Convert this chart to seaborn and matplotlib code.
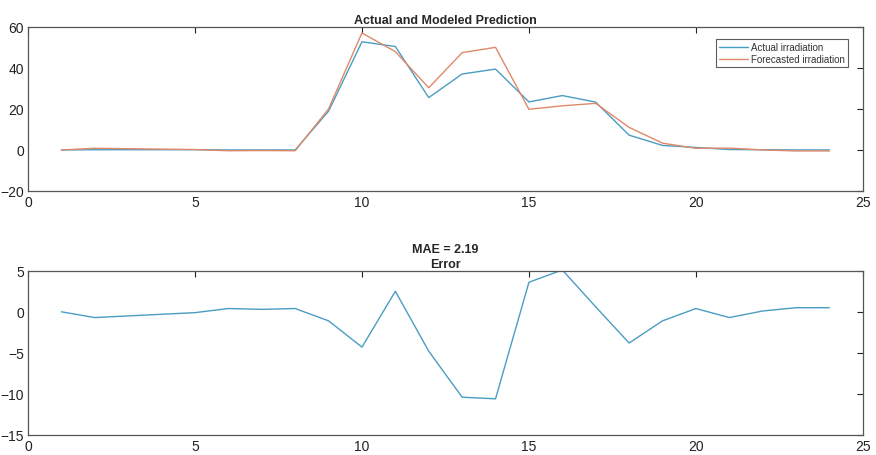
import matplotlib
matplotlib.use("Agg")
import matplotlib.pyplot as plt
import seaborn as sns
import pandas as pd

hours = list(range(1, 25))
actual = [0, 0.1, 0.1, 0.1, 0.1, 0, 0, 0, 18.9, 52.7, 50.4, 25.5, 37.0, 39.4,
          23.4, 26.5, 23.3, 7.2, 2.2, 1.2, 0.2, 0.1, 0, 0]
forecast = [0, 0.8, 0.6, 0.4, 0.2, -0.4, -0.3, -0.4, 20.0, 57.0, 47.9, 30.3, 47.4, 50.0,
            19.8, 21.5, 22.7, 11.0, 3.3, 0.8, 0.9, 0, -0.5, -0.5]
error = [0, -0.7, -0.5, -0.3, -0.1, 0.4, 0.3, 0.4, -1.1, -4.3, 2.5, -4.8, -10.4, -10.6,
         3.6, 5.1, 0.6, -3.8, -1.1, 0.4, -0.7, 0.1, 0.5, 0.5]
series_names = ["Actual irradiation", "Forecasted irradiation"]
mae_text = "MAE = 2.19"

sns.set_style("white")
plt.rcParams['font.family'] = ['Liberation Sans', 'DejaVu Sans']

df = pd.DataFrame({
    "hour": hours * 2,
    "value": actual + forecast,
    "series": [series_names[0]] * len(hours) + [series_names[1]] * len(hours),
})
df_err = pd.DataFrame({"hour": hours, "error": error})

blue = "#4a9dc2"
orange = "#e0896a"

fig = plt.figure(figsize=(8.76, 4.56), dpi=100)
ax1 = fig.add_axes([0.032, 0.579, 0.953, 0.36])
ax2 = fig.add_axes([0.032, 0.044, 0.953, 0.36])

sns.lineplot(data=df, x="hour", y="value", hue="series", palette=[blue, orange],
             ax=ax1, linewidth=1.0)
sns.lineplot(data=df_err, x="hour", y="error", color=blue, ax=ax2, linewidth=1.0)

for ax in (ax1, ax2):
    ax.set_xlim(0, 25)
    ax.set_xticks([0, 5, 10, 15, 20, 25])
    ax.set_xlabel("")
    ax.set_ylabel("")
    ax.tick_params(direction="in", top=True, right=True, length=4, width=0.8,
                   labelsize=10, colors="#222222", pad=3)
    for s in ax.spines.values():
        s.set_color("#555555")
        s.set_linewidth(0.9)
        s.set_visible(True)

ax1.set_ylim(-20, 60)
ax1.set_yticks([-20, 0, 20, 40, 60])
ax2.set_ylim(-15, 5)
ax2.set_yticks([-15, -10, -5, 0, 5])

ax1.set_title("Actual and Modeled Prediction", fontsize=9, fontweight="bold", pad=3)
ax2.set_title(mae_text + "\nError", fontsize=9, fontweight="bold", pad=3, linespacing=1.3)

leg = ax1.legend(loc="upper right", fontsize=7, frameon=True, fancybox=False,
                 borderpad=0.3, handlelength=3.0, handletextpad=0.3, labelspacing=0.2,
                 bbox_to_anchor=(0.988, 0.955))
leg.get_frame().set_edgecolor("#333333")
leg.get_frame().set_linewidth(0.8)
for t in leg.get_texts():
    t.set_color("#333333")

fig.savefig("out.png", dpi=100)
